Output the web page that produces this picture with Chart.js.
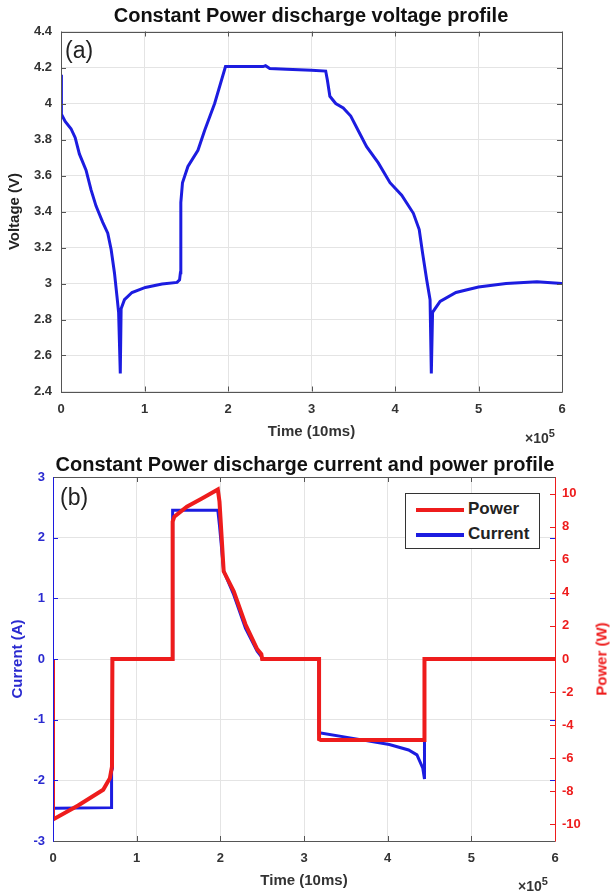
<!DOCTYPE html>
<html lang="en">
<head>
  <meta charset="UTF-8" />
  <title>Constant Power discharge profiles</title>
  <script src="https://cdn.jsdelivr.net/npm/chart.js"></script>
<style>
  html, body {
    margin: 0;
    padding: 0;
    background: #ffffff;
    width: 610px;
    height: 894px;
    overflow: hidden;
    font-family: "Liberation Sans", Arial, sans-serif;
  }
  .panel {
    position: absolute;
    left: 0;
    width: 610px;
  }
  #top { top: 0; height: 445px; }
  #bottom { top: 445px; height: 449px; }
  .tag {
    position: absolute;
    font-size: 23px;
    color: #222;
    line-height: 1;
  }
  .exp {
    position: absolute;
    font-size: 14px;
    font-weight: bold;
    color: #333;
    line-height: 1;
  }
  .exp sup { font-size: 11px; }
  #legend {
    position: absolute;
    left: 405px;
    top: 493px;
    width: 133px;
    height: 54px;
    border: 1.5px solid #333;
    background: #fff;
    font-size: 17px;
    font-weight: bold;
    color: #222;
  }
  #legend .row {
    position: absolute;
    left: 10px;
    height: 20px;
    line-height: 20px;
  }
  #legend .swatch {
    display: inline-block;
    width: 48px;
    height: 4px;
    vertical-align: middle;
    margin-right: 4px;
  }
  #powerTitle {
    position: absolute;
    left: 601px;
    top: 659px;
    transform: translate(-50%, -50%) rotate(-90deg);
    font-size: 15px;
    font-weight: bold;
    line-height: 15px;
    color: #ee1c1c;
    white-space: nowrap;
  }
</style>
</head>
<body>
  <div class="panel" id="top"><canvas id="voltChart" width="610" height="445"></canvas></div>
  <div class="panel" id="bottom"><canvas id="powerChart" width="610" height="449"></canvas></div>

  <div class="tag" style="left:65px; top:39px;">(a)</div>
  <div class="tag" style="left:60px; top:486px;">(b)</div>
  <div class="exp" style="left:525px; top:428px;">&times;10<sup>5</sup></div>
  <div class="exp" style="left:518px; top:876px;">&times;10<sup>5</sup></div>
  <div id="legend">
    <div class="row" style="top:5px;"><span class="swatch" style="background:#ee1c1c"></span>Power</div>
    <div class="row" style="top:30px;"><span class="swatch" style="background:#1c1ce0"></span>Current</div>
  </div>
  <div id="powerTitle">Power (W)</div>

  <script>
    // time is in units of 10^5 (x 10ms)
    const voltTime  = [0, 0.005, 0.05, 0.12, 0.17, 0.22, 0.30, 0.36, 0.42, 0.50, 0.56, 0.60, 0.64, 0.67, 0.69, 0.71, 0.72, 0.76, 0.85, 1.01, 1.21, 1.39, 1.42, 1.43, 1.435, 1.455, 1.52, 1.64, 1.72, 1.84, 1.97, 2.1, 2.3, 2.42, 2.45, 2.5, 2.7, 3.0, 3.17, 3.19, 3.22, 3.29, 3.38, 3.47, 3.57, 3.66, 3.8, 3.94, 4.08, 4.22, 4.29, 4.33, 4.38, 4.42, 4.435, 4.45, 4.54, 4.73, 5.0, 5.33, 5.7, 6.0];
    const voltValue = [4.16, 3.94, 3.90, 3.86, 3.81, 3.72, 3.63, 3.52, 3.43, 3.34, 3.28, 3.19, 3.06, 2.93, 2.84, 2.50, 2.86, 2.91, 2.95, 2.978, 2.997, 3.006, 3.02, 3.06, 3.45, 3.56, 3.65, 3.74, 3.85, 4.0, 4.205, 4.205, 4.205, 4.205, 4.21, 4.195, 4.19, 4.185, 4.18, 4.13, 4.04, 4.0, 3.975, 3.93, 3.84, 3.76, 3.67, 3.56, 3.49, 3.39, 3.30, 3.17, 3.02, 2.91, 2.50, 2.84, 2.90, 2.95, 2.98, 3.0, 3.01, 3.0];

    const curTime  = [0, 0, 0.02, 0.70, 0.70, 0.71, 0.71, 1.43, 1.43, 1.97, 1.99, 2.04, 2.16, 2.30, 2.44, 2.49, 2.50, 3.18, 3.18, 3.20, 3.55, 4.02, 4.25, 4.35, 4.42, 4.44, 4.44, 6.0];
    const curValue = [0, -2.45, -2.46, -2.45, -1.85, -1.8, 0, 0, 2.45, 2.45, 2.2, 1.45, 1.06, 0.51, 0.13, 0.04, 0, 0, -1.22, -1.22, -1.3, -1.41, -1.5, -1.58, -1.8, -1.98, 0, 0];

    const powTime  = [0, 0, 0.3, 0.6, 0.68, 0.705, 0.71, 1.43, 1.43, 1.45, 1.6, 1.78, 1.97, 1.99, 2.04, 2.16, 2.30, 2.44, 2.49, 2.50, 3.18, 3.18, 3.20, 4.44, 4.44, 6.0];
    const powValue = [0, -9.7, -8.85, -7.9, -7.2, -6.5, 0, 0, 8.3, 8.6, 9.2, 9.7, 10.25, 9.5, 5.3, 4.1, 2.1, 0.6, 0.3, 0, 0, -4.85, -4.9, -4.9, 0, 0];

    const timeTicks = [0, 1, 2, 3, 4, 5, 6];
    const voltTicks = [2.4, 2.6, 2.8, 3, 3.2, 3.4, 3.6, 3.8, 4, 4.2, 4.4];
    const curTicks  = [-3, -2, -1, 0, 1, 2, 3];
    const powTicks  = [-10, -8, -6, -4, -2, 0, 2, 4, 6, 8, 10];

    const BLUE = '#1c1ce0';
    const RED = '#ee1c1c';
    const GRID = '#e4e4e4';
    const tickFont = { family: 'Liberation Sans', size: 13, weight: 'bold' };
    const axisFont = { family: 'Liberation Sans', size: 15, weight: 'bold' };
    const titleFont = { family: 'Liberation Sans', size: 20, weight: 'bold' };

    const pts = (xs, ys) => xs.map((x, i) => ({ x: x, y: ys[i] }));
    const fmt = v => String(Number(v.toFixed(1)));
    const fixTicks = list => axis => { axis.ticks = list.map(v => ({ value: v })); };

    // box around the plot with short inward tick marks (matlab look)
    const frame = {
      id: 'frame',
      afterDatasetsDraw(chart, args, opts) {
        const { ctx, chartArea: a, scales } = chart;
        ctx.save();
        ctx.lineWidth = 1;
        const line = (x1, y1, x2, y2, c) => {
          ctx.strokeStyle = c;
          ctx.beginPath(); ctx.moveTo(x1, y1); ctx.lineTo(x2, y2); ctx.stroke();
        };
        const L = 5;
        scales.x.ticks.forEach(t => {
          const px = Math.round(scales.x.getPixelForValue(t.value)) + 0.5;
          line(px, a.bottom, px, a.bottom - L, '#555');
          line(px, a.top, px, a.top + L, '#555');
        });
        scales.y.ticks.forEach(t => {
          const py = Math.round(scales.y.getPixelForValue(t.value)) + 0.5;
          line(a.left, py, a.left + L, py, opts.leftColor);
          line(a.right, py, a.right - L, py, opts.leftColor);
        });
        if (scales.y2) {
          scales.y2.ticks.forEach(t => {
            const py = Math.round(scales.y2.getPixelForValue(t.value)) + 0.5;
            line(a.right, py, a.right - L, py, opts.rightColor);
          });
        }
        const l = Math.round(a.left) + 0.5, r = Math.round(a.right) + 0.5;
        const tp = Math.round(a.top) + 0.5, b = Math.round(a.bottom) + 0.5;
        line(l, tp, r, tp, '#555');
        line(l, b, r, b, '#555');
        line(l, tp, l, b, opts.leftColor);
        line(r, tp, r, b, opts.rightColor);
        ctx.restore();
      }
    };

    new Chart(document.getElementById('voltChart'), {
      type: 'line',
      data: {
        datasets: [{
          label: 'Voltage',
          data: pts(voltTime, voltValue),
          borderColor: BLUE,
          borderWidth: 3,
          pointRadius: 0,
          tension: 0
        }]
      },
      options: {
        responsive: false,
        animation: false,
        layout: { padding: { left: 12, right: 0, top: 0, bottom: 0 } },
        plugins: {
          legend: { display: false },
          tooltip: { enabled: false },
          title: {
            display: true,
            text: 'Constant Power discharge voltage profile',
            color: '#111',
            font: titleFont,
            padding: { top: 4.5, bottom: 3 }
          },
          frame: { leftColor: '#555', rightColor: '#555' }
        },
        scales: {
          x: {
            type: 'linear',
            min: 0, max: 6,
            afterBuildTicks: fixTicks(timeTicks),
            afterFit: s => { s.height = 53.5; },
            grid: { color: GRID, drawTicks: false },
            border: { display: false },
            ticks: { color: '#333', font: tickFont, padding: 10, callback: v => fmt(v) },
            title: { display: true, text: 'Time (10ms)', color: '#333', font: axisFont, padding: { top: 0, bottom: 4 } }
          },
          y: {
            min: 2.4, max: 4.4,
            afterBuildTicks: fixTicks(voltTicks),
            afterFit: s => { s.width = 49; },
            grid: { color: GRID, drawTicks: false },
            border: { display: false },
            ticks: { color: '#333', font: tickFont, padding: 9, callback: v => fmt(v) },
            title: { display: true, text: 'Voltage (V)', color: '#222', font: axisFont, padding: { top: -6, bottom: 0 } }
          },
          // empty right-hand axis, only keeps the gap beside the plot
          yPad: {
            position: 'right',
            min: 0, max: 1,
            afterFit: s => { s.width = 48; },
            grid: { display: false },
            border: { display: false },
            ticks: { display: false }
          }
        }
      },
      plugins: [frame]
    });

    new Chart(document.getElementById('powerChart'), {
      type: 'line',
      data: {
        datasets: [{
          label: 'Power',
          data: pts(powTime, powValue),
          yAxisID: 'y2',
          borderColor: RED,
          borderWidth: 4,
          pointRadius: 0,
          tension: 0
        }, {
          label: 'Current',
          data: pts(curTime, curValue),
          yAxisID: 'y',
          borderColor: BLUE,
          borderWidth: 3,
          pointRadius: 0,
          tension: 0
        }]
      },
      options: {
        responsive: false,
        animation: false,
        layout: { padding: 0 },
        plugins: {
          legend: { display: false },
          tooltip: { enabled: false },
          title: {
            display: true,
            text: 'Constant Power discharge current and power profile',
            color: '#111',
            font: titleFont,
            padding: { top: 8, bottom: 0 }
          },
          frame: { leftColor: BLUE, rightColor: RED }
        },
        scales: {
          x: {
            type: 'linear',
            min: 0, max: 6,
            afterBuildTicks: fixTicks(timeTicks),
            afterFit: s => { s.height = 53; },
            grid: { color: GRID, drawTicks: false },
            border: { display: false },
            ticks: { color: '#333', font: tickFont, padding: 10, callback: v => fmt(v) },
            title: { display: true, text: 'Time (10ms)', color: '#333', font: axisFont, padding: { top: 0, bottom: 4 } }
          },
          y: {
            position: 'left',
            min: -3, max: 3,
            afterBuildTicks: fixTicks(curTicks),
            afterFit: s => { s.width = 53; },
            grid: { color: GRID, drawTicks: false },
            border: { display: false },
            ticks: { color: '#2a2ad0', font: tickFont, padding: 8, callback: v => fmt(v) },
            title: { display: true, text: 'Current (A)', color: '#2a2ad0', font: axisFont, padding: { top: 9, bottom: 0 } }
          },
          y2: {
            position: 'right',
            min: -11, max: 11,
            afterBuildTicks: fixTicks(powTicks),
            afterFit: s => { s.width = 55; },
            grid: { display: false, drawTicks: false },
            border: { display: false },
            ticks: { color: RED, font: tickFont, padding: 7, callback: v => fmt(v) }
          }
        }
      },
      plugins: [frame]
    });
  </script>
</body>
</html>
